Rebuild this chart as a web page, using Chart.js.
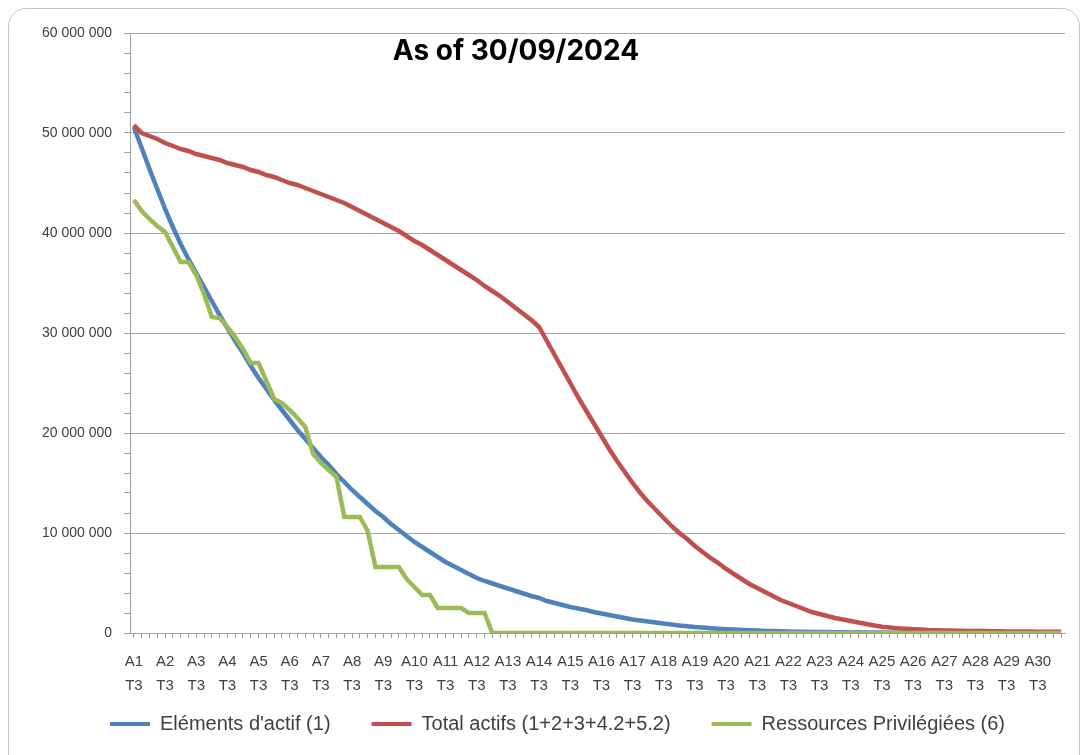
<!DOCTYPE html>
<html lang="fr">

<head>
    <meta charset="UTF-8">
    <title>Amortissement - As of 30/09/2024</title>
    <script src="https://cdn.jsdelivr.net/npm/chart.js"></script>
    <style>
        * {
            margin: 0;
            padding: 0;
            box-sizing: border-box;
        }

        body {
            width: 1083px;
            height: 755px;
            overflow: hidden;
            background: #ffffff;
            font-family: "Liberation Sans", Arial, sans-serif;
        }

        .frame {
            position: absolute;
            left: 8px;
            top: 8px;
            width: 1072px;
            height: 780px;
            border: 1px solid #c4c4c4;
            border-radius: 18px;
        }

        .chart-box {
            position: absolute;
            left: 0;
            top: 0;
            width: 1083px;
            height: 755px;
        }

        .title {
            position: absolute;
            left: 316px;
            top: 33px;
            width: 400px;
            text-align: center;
            font-family: Inter, "Noto Sans", sans-serif;
            font-weight: 700;
            font-size: 28px;
            line-height: 34px;
            color: #000;
        }
    </style>
</head>

<body>
    <div class="frame"></div>
    <div class="chart-box">
        <canvas id="amortChart" width="1083" height="755"></canvas>
    </div>
    <div class="title">As of 30/09/2024</div>

    <script>
        // years A1..A31, quarters start at T3 of A1
        const years = ['A1', 'A2', 'A3', 'A4', 'A5', 'A6', 'A7', 'A8', 'A9', 'A10', 'A11', 'A12', 'A13', 'A14', 'A15',
            'A16', 'A17', 'A18', 'A19', 'A20', 'A21', 'A22', 'A23', 'A24', 'A25', 'A26', 'A27', 'A28', 'A29', 'A30', 'A31'];
        const quarters = ['T1', 'T2', 'T3', 'T4'];

        const seriesNames = ["Eléments d'actif (1)", 'Total actifs (1+2+3+4.2+5.2)', 'Ressources Privilégiées (6)'];

        // values in millions, one per quarter
        const elementsActif = [
            50.6, 48.5, 46.4, 44.4, 42.4, 40.6, 38.9, 37.4, 36.0, 34.6,
            33.2, 31.8, 30.5, 29.2, 28.0, 26.7, 25.5, 24.4, 23.3, 22.3,
            21.3, 20.3, 19.4, 18.5, 17.6, 16.8, 15.9, 15.1, 14.3, 13.6,
            12.9, 12.2, 11.6, 10.9, 10.3, 9.7, 9.1, 8.6, 8.1, 7.6,
            7.1, 6.7, 6.3, 5.9, 5.5, 5.2, 4.95, 4.7, 4.45, 4.2,
            3.95, 3.7, 3.5, 3.2, 3.0, 2.8, 2.6, 2.45, 2.3, 2.1,
            1.95, 1.8, 1.65, 1.5, 1.35, 1.25, 1.15, 1.05, 0.95, 0.85,
            0.75, 0.68, 0.6, 0.54, 0.48, 0.43, 0.38, 0.34, 0.3, 0.27,
            0.24, 0.21, 0.19, 0.17, 0.15, 0.13, 0.12, 0.11, 0.1, 0.09,
            0.08, 0.07, 0.06, 0.05, 0.05, 0.04, 0.04, 0.03, 0.03, 0.03,
            0.02, 0.02, 0.02, 0.02, 0.02, 0.02, 0.02, 0.02, 0.02, 0.02,
            0.02, 0.02, 0.02, 0.02, 0.02, 0.02, 0.02, 0.02, 0.02, 0.02
        ];

        const totalActifs = [
            50.8, 50.0, 49.7, 49.4, 49.0, 48.7, 48.4, 48.2, 47.9, 47.7,
            47.5, 47.3, 47.0, 46.8, 46.6, 46.3, 46.1, 45.8, 45.6, 45.3,
            45.0, 44.8, 44.5, 44.2, 43.9, 43.6, 43.3, 43.0, 42.6, 42.2,
            41.8, 41.4, 41.0, 40.6, 40.2, 39.7, 39.2, 38.8, 38.3, 37.8,
            37.3, 36.8, 36.3, 35.8, 35.3, 34.7, 34.2, 33.7, 33.1, 32.5,
            31.9, 31.3, 30.6, 29.2, 27.8, 26.4, 25.0, 23.6, 22.3, 21.0,
            19.7, 18.4, 17.2, 16.1, 15.0, 14.0, 13.1, 12.3, 11.5, 10.7,
            10.0, 9.4, 8.7, 8.1, 7.5, 7.0, 6.4, 5.9, 5.4, 4.9,
            4.5, 4.1, 3.7, 3.3, 3.0, 2.7, 2.4, 2.1, 1.9, 1.7,
            1.5, 1.35, 1.2, 1.05, 0.9, 0.75, 0.62, 0.55, 0.48, 0.43,
            0.38, 0.34, 0.3, 0.28, 0.26, 0.24, 0.22, 0.21, 0.2, 0.19,
            0.18, 0.17, 0.16, 0.15, 0.14, 0.14, 0.13, 0.13, 0.12, 0.12
        ];

        const ressourcesPriv = [
            43.3, 42.2, 41.4, 40.7, 40.1, 38.6, 37.1, 37.1, 35.8, 33.9,
            31.6, 31.5, 30.6, 29.6, 28.4, 27.0, 27.0, 25.2, 23.4, 23.0,
            22.3, 21.5, 20.6, 17.9, 17.0, 16.3, 15.6, 11.6, 11.6, 11.6,
            10.2, 6.6, 6.6, 6.6, 6.6, 5.4, 4.6, 3.8, 3.8, 2.5,
            2.5, 2.5, 2.5, 2.0, 2.0, 2.0, 0, 0, 0, 0,
            0, 0, 0, 0, 0, 0, 0, 0, 0, 0,
            0, 0, 0, 0, 0, 0, 0, 0, 0, 0,
            0, 0, 0, 0, 0, 0, 0, 0, 0, 0,
            0, 0, 0, 0, 0, 0, 0, 0, 0, 0,
            0, 0, 0, 0, 0, 0, 0, 0, 0, 0,
            0, 0, 0, 0, 0, 0, 0, 0, 0, 0,
            0, 0, 0, 0, 0, 0, 0, 0, 0, 0
        ];

        const colors = ['#4f81bd', '#c0504d', '#9bbb59'];

        // build category labels "A1 T3", "A1 T4", "A2 T1", ...
        let labels = [];
        let q = 2;
        let y = 0;
        while (labels.length < elementsActif.length) {
            labels.push(years[y] + ' ' + quarters[q]);
            q++;
            if (q === 4) {
                q = 0;
                y++;
            }
        }

        function formatNumber(v) {
            return String(v).replace(/\B(?=(\d{3})+(?!\d))/g, ' ');
        }

        const toUnits = arr => arr.map(v => Math.round(v * 1000000));

        let datasets = [elementsActif, totalActifs, ressourcesPriv].map((values, i) => ({
            label: seriesNames[i],
            data: toUnits(values),
            borderColor: colors[i],
            backgroundColor: colors[i],
            borderWidth: 4.5,
            pointRadius: 0,
            tension: 0,
            order: 3 - i
        }));

        // tick labels are bigger than the boxes the layout gives the axes:
        // widen the label clip areas so nothing gets cut
        const labelRoom = {
            id: 'labelRoom',
            afterLayout(chart) {
                chart.scales.y.left = 0;
                chart.scales.x.bottom = chart.height;
            }
        };

        const ctx = document.getElementById('amortChart').getContext('2d');
        new Chart(ctx, {
            type: 'line',
            data: {
                labels: labels,
                datasets: datasets
            },
            plugins: [labelRoom],
            options: {
                responsive: false,
                animation: false,
                layout: {
                    padding: { left: 50, right: 18, top: 33, bottom: 11 }
                },
                scales: {
                    x: {
                        offset: true,
                        afterFit: scale => { scale.height = 40; },
                        border: { color: '#a0a0a0' },
                        grid: {
                            drawOnChartArea: false,
                            color: '#a0a0a0',
                            tickLength: 5
                        },
                        ticks: {
                            autoSkip: false,
                            maxRotation: 0,
                            padding: 12,
                            color: '#404040',
                            font: { family: '"Liberation Sans", Arial, sans-serif', size: 15, lineHeight: 1.6 },
                            callback: function (val, i) {
                                if (i % 4 !== 0) return '';
                                return this.getLabelForValue(val).split(' ');
                            }
                        }
                    },
                    y: {
                        min: 0,
                        max: 60000000,
                        afterFit: scale => { scale.width = 80; },
                        border: { color: '#a0a0a0' },
                        grid: {
                            color: c => c.tick && c.tick.value % 10000000 === 0 ? '#a6a6a6' : 'rgba(0,0,0,0)',
                            tickColor: '#a0a0a0',
                            tickLength: 6
                        },
                        ticks: {
                            stepSize: 2000000,
                            padding: 12,
                            color: '#404040',
                            font: { family: '"Liberation Sans", Arial, sans-serif', size: 14 },
                            callback: v => v % 10000000 === 0 ? formatNumber(v) : ''
                        }
                    }
                },
                plugins: {
                    legend: {
                        position: 'bottom',
                        labels: {
                            boxWidth: 40,
                            boxHeight: 4,
                            padding: 41,
                            color: '#404040',
                            font: { family: '"Liberation Sans", Arial, sans-serif', size: 20 },
                            generateLabels: function (chart) {
                                let items = Chart.defaults.plugins.legend.labels.generateLabels(chart);
                                items.forEach(it => {
                                    it.fillStyle = it.strokeStyle;
                                    it.lineWidth = 0;
                                });
                                return items.sort((a, b) => a.datasetIndex - b.datasetIndex);
                            }
                        }
                    },
                    tooltip: { enabled: false }
                }
            }
        });
    </script>
</body>

</html>
